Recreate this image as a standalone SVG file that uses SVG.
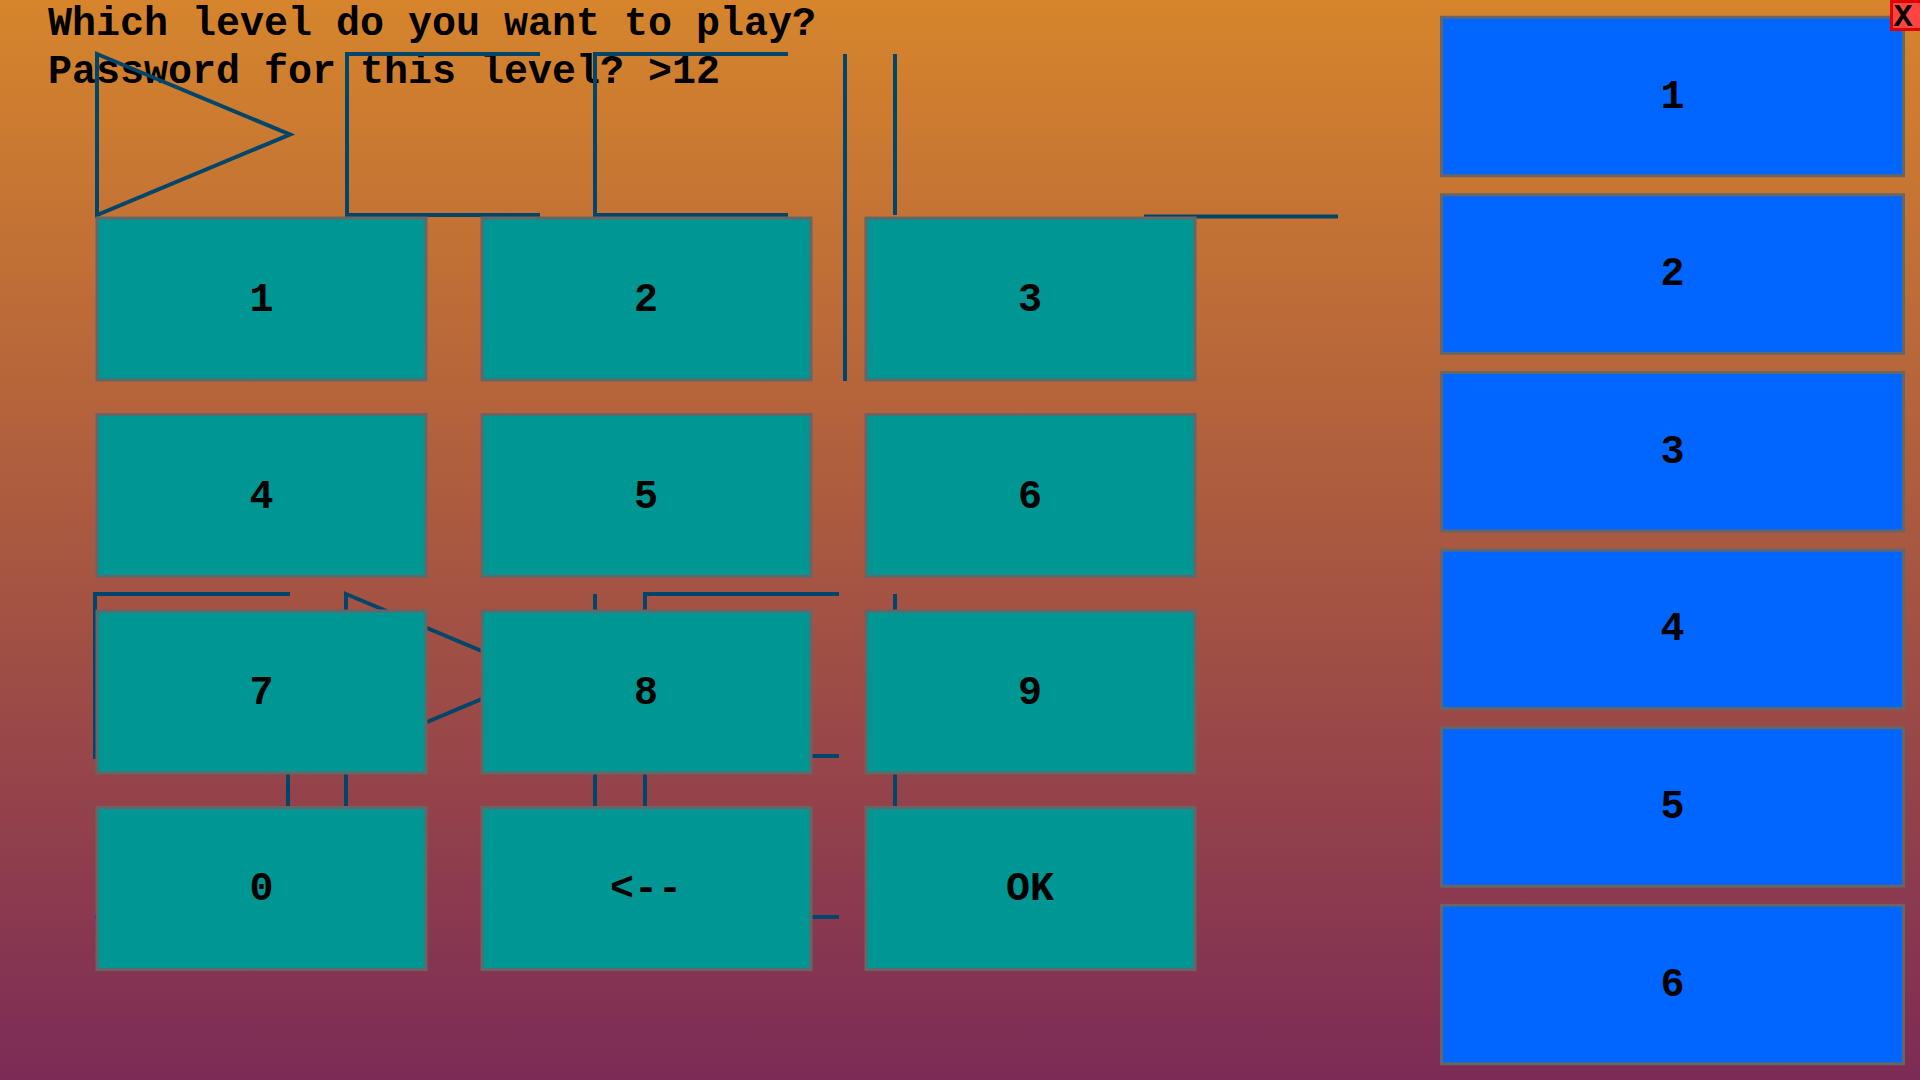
<svg xmlns="http://www.w3.org/2000/svg" width="1920" height="1080" viewBox="0 0 1920 1080">
  <defs>
    <linearGradient id="bg" x1="0" y1="0" x2="0" y2="1">
      <stop offset="0" stop-color="#D6852C"/>
      <stop offset="1" stop-color="#7C2B56"/>
    </linearGradient>
  </defs>
  <style>
    .title { font-family: "Liberation Mono", "DejaVu Sans Mono", monospace; font-weight: bold; font-size: 40px; fill: #000; }
    .lbl { font-family: "Liberation Mono", "DejaVu Sans Mono", monospace; font-weight: bold; font-size: 40px; fill: #000; text-anchor: middle; }
    .key rect { fill: #009694; stroke: #666666; stroke-width: 3; }
    .lvl rect { fill: #0066FF; stroke: #666666; stroke-width: 3; }
    .wire { fill: none; stroke: #00466A; stroke-width: 4; stroke-linejoin: miter; }
  </style>
  <rect x="0" y="0" width="1920" height="1080" fill="url(#bg)"/>

  <g id="prompt">
    <text class="title" x="48" y="35">Which level do you want to play?</text>
    <text class="title" x="48" y="83">Password for this level? &gt;12</text>
  </g>

  <g id="connectors" class="wire">
    <path d="M97,54 L290,134.5 L97,215 Z"/>
    <path d="M540,54 H347 V215 H540"/>
    <path d="M788,54 H595 V215 H788"/>
    <path d="M845,54 V381"/>
    <path d="M895,54 V215"/>
    <path d="M1144,216.5 H1338"/>
    <path d="M290,594 H95 V757 H290"/>
    <path d="M346,594 L539,675 L346,756 Z"/>
    <path d="M95,917 H288 V756"/>
    <path d="M346,756 V917"/>
    <path d="M595,594 V917"/>
    <path d="M839,594 H645 V917 H839 M645,756 H839"/>
    <path d="M895,594 V917"/>
  </g>

  <g id="key-1" class="key"><rect x="97" y="218" width="329" height="162"/><text class="lbl" x="261.5" y="311">1</text></g>
  <g id="key-2" class="key"><rect x="482" y="218" width="329" height="162"/><text class="lbl" x="646" y="311">2</text></g>
  <g id="key-3" class="key"><rect x="866" y="218" width="329" height="162"/><text class="lbl" x="1030" y="311">3</text></g>
  <g id="key-4" class="key"><rect x="97" y="414.5" width="329" height="162"/><text class="lbl" x="261.5" y="507.5">4</text></g>
  <g id="key-5" class="key"><rect x="482" y="414.5" width="329" height="162"/><text class="lbl" x="646" y="507.5">5</text></g>
  <g id="key-6" class="key"><rect x="866" y="414.5" width="329" height="162"/><text class="lbl" x="1030" y="507.5">6</text></g>
  <g id="key-7" class="key"><rect x="97" y="611" width="329" height="162"/><text class="lbl" x="261.5" y="704">7</text></g>
  <g id="key-8" class="key"><rect x="482" y="611" width="329" height="162"/><text class="lbl" x="646" y="704">8</text></g>
  <g id="key-9" class="key"><rect x="866" y="611" width="329" height="162"/><text class="lbl" x="1030" y="704">9</text></g>
  <g id="key-0" class="key"><rect x="97" y="807.5" width="329" height="162"/><text class="lbl" x="261.5" y="900">0</text></g>
  <g id="key-back" class="key"><rect x="482" y="807.5" width="329" height="162"/><text class="lbl" x="646" y="900">&lt;--</text></g>
  <g id="key-ok" class="key"><rect x="866" y="807.5" width="329" height="162"/><text class="lbl" x="1030" y="900">OK</text></g>

  <g id="level-1" class="lvl"><rect x="1441.5" y="17.2" width="462" height="158.5"/><text class="lbl" x="1672.5" y="107.5">1</text></g>
  <g id="level-2" class="lvl"><rect x="1441.5" y="194.8" width="462" height="158.5"/><text class="lbl" x="1672.5" y="285">2</text></g>
  <g id="level-3" class="lvl"><rect x="1441.5" y="372.5" width="462" height="158.5"/><text class="lbl" x="1672.5" y="462.5">3</text></g>
  <g id="level-4" class="lvl"><rect x="1441.5" y="550.1" width="462" height="158.5"/><text class="lbl" x="1672.5" y="640">4</text></g>
  <g id="level-5" class="lvl"><rect x="1441.5" y="727.7" width="462" height="158.5"/><text class="lbl" x="1672.5" y="818">5</text></g>
  <g id="level-6" class="lvl"><rect x="1441.5" y="905.3" width="462" height="158.5"/><text class="lbl" x="1672.5" y="996">6</text></g>

  <g id="close">
    <rect x="1891.5" y="1.5" width="30" height="28" fill="#FF4444" stroke="#E00000" stroke-width="3"/>
    <text class="lbl" x="1903" y="26" style="font-size:32px">X</text>
  </g>
</svg>
